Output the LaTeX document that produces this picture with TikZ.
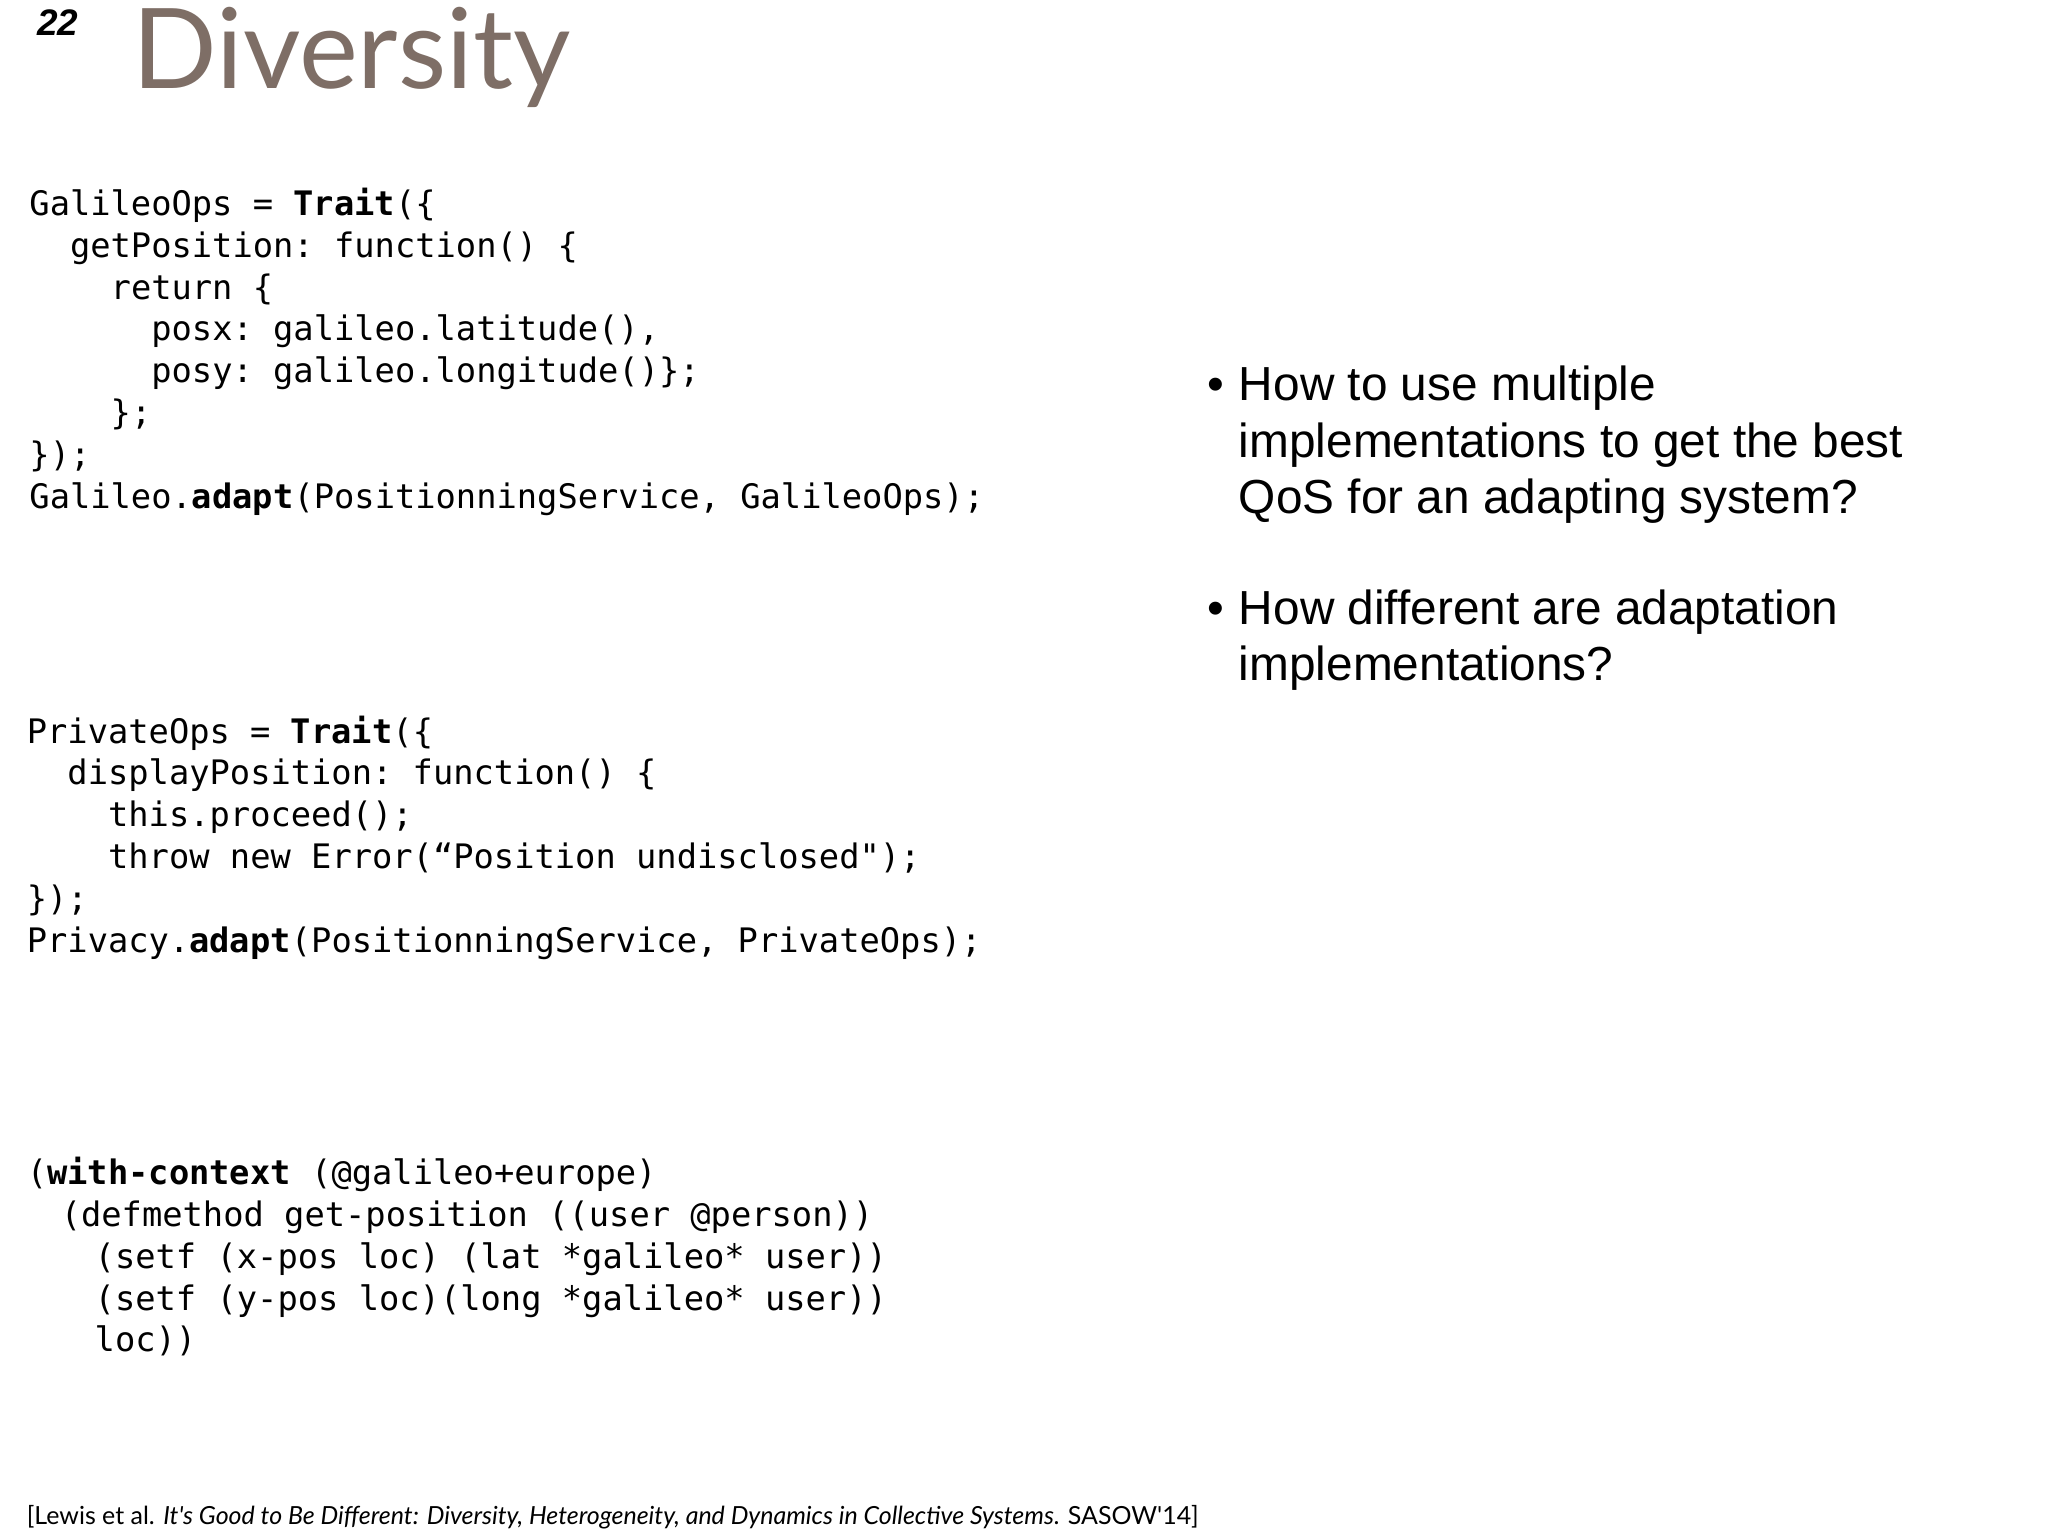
\documentclass[tikz,border=0pt]{standalone}
\usepackage{fontspec}
\setmainfont{Liberation Sans}
\setmonofont{DejaVu Sans Mono}
\newfontfamily\gill{Lato}
\definecolor{titlecol}{HTML}{7E6E66}
\begin{document}
\begin{tikzpicture}[x=0.013061cm,y=-0.013061cm]
\tikzset{code/.style={anchor=base west,inner sep=0pt,font=\fontsize{9.6pt}{12pt}\ttfamily},
bul/.style={anchor=base west,inner sep=0pt,font=\fontsize{13.6pt}{16pt}\selectfont}}
\useasboundingbox[fill=white] (0,0) rectangle (1568,1176);
\node[anchor=base west,inner sep=0pt,font=\fontsize{10.5pt}{12pt}\bfseries\itshape\rmfamily] (num) at (28,27) {22};
\node[anchor=base west,inner sep=0pt,text=titlecol,font=\gill\fontsize{31.7pt}{36pt}\selectfont] (title) at (101,68) {Diversity};
% block 1
\node[code] (a1) at (22,165) {GalileoOps = \textbf{Trait}(\{};
\node[code] (a2) at (22,197) {\ \ getPosition: function() \{};
\node[code] (a3) at (22,229) {\ \ \ \ return \{};
\node[code] (a4) at (22,261) {\ \ \ \ \ \ posx: galileo.latitude(),};
\node[code] (a5) at (22,293) {\ \ \ \ \ \ posy: galileo.longitude()\};};
\node[code] (a6) at (22,325) {\ \ \ \ \};};
\node[code] (a7) at (22,357) {\});};
\node[code] (a8) at (22,389) {Galileo.\textbf{adapt}(PositionningService, GalileoOps);};
% block 2
\node[code] (b1) at (20,569) {PrivateOps = \textbf{Trait}(\{};
\node[code] (b2) at (20,601) {\ \ displayPosition: function() \{};
\node[code] (b3) at (20,633) {\ \ \ \ this.proceed();};
\node[code] (b4) at (20,665) {\ \ \ \ throw new Error(“Position undisclosed");};
\node[code] (b5) at (20,697) {\});};
\node[code] (b6) at (20,729) {Privacy.\textbf{adapt}(PositionningService, PrivateOps);};
% block 3
\node[code] (d1) at (20,907) {(\textbf{with-context} (@galileo+europe)};
\node[code] (d2) at (46,939) {(defmethod get-position ((user @person))};
\node[code] (d3) at (72,971) {(setf (x-pos loc) (lat *galileo* user))};
\node[code] (d4) at (72,1003) {(setf (y-pos loc)(long *galileo* user))};
\node[code] (d5) at (72,1035) {loc))};
% bullets
\node[bul] (p1) at (924,307) {•};
\node[bul] (t1) at (948,307) {How to use multiple};
\node[bul] (t2) at (948,350) {implementations to get the best};
\node[bul] (t3) at (948,393) {QoS for an adapting system?};
\node[bul] (p2) at (924,478) {•};
\node[bul] (t4) at (948,478) {How different are adaptation};
\node[bul] (t5) at (948,521) {implementations?};
% citation
\node[anchor=base west,inner sep=0pt,font=\gill\fontsize{7.1pt}{9pt}\selectfont] (cite) at (20,1167) {[Lewis et al. \textit{It's Good to Be Different: Diversity, Heterogeneity, and Dynamics in Collective Systems}. SASOW'14]};
\end{tikzpicture}
\end{document}
